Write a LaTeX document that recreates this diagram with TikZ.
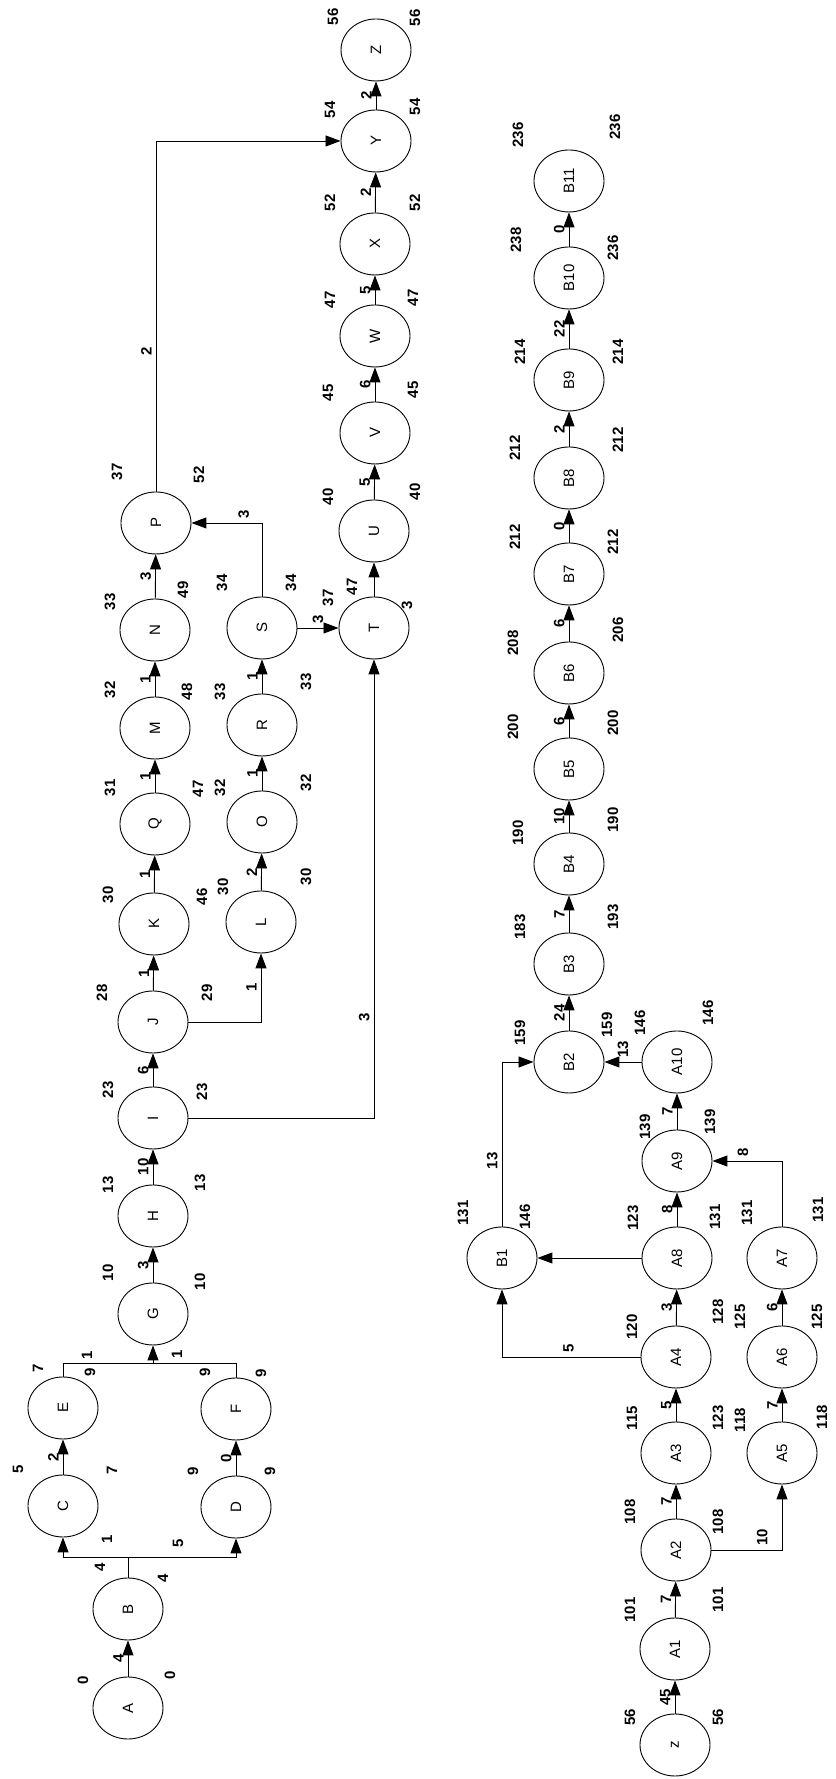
\documentclass[tikz,border=0pt]{standalone}
\usepackage{fontspec}
\setmainfont{Liberation Sans}
\usetikzlibrary{arrows.meta, shapes.geometric}

\begin{document}
\begin{tikzpicture}[
    x=1pt, y=1pt,
    font=\fontsize{15}{15}\selectfont,
    ev/.style={draw, ellipse, line width=0.9pt,
        minimum width=62pt, minimum height=70pt, inner sep=0pt},
    lab/.style={font=\fontsize{15}{15}\selectfont\bfseries, inner sep=1pt},
    dur/.style={lab, inner sep=4pt},
    arrow/.style={-{Triangle[length=15pt, width=11pt]}, line width=0.9pt},
    link/.style={line width=0.9pt}
]
\begin{scope}[rotate=90, transform shape]
\useasboundingbox (0,0) rectangle (1779,835);

% -- upper network: events --
\node[ev] (A) at (71,707) {A};
\node[ev] (B) at (170,707) {B};
\node[ev] (C) at (273,772) {C};
\node[ev] (D) at (272,599) {D};
\node[ev] (E) at (371,772) {E};
\node[ev] (F) at (370,599) {F};
\node[ev] (G) at (465,682) {G};
\node[ev] (H) at (563,682) {H};
\node[ev] (I) at (661,682) {I};
\node[ev] (J) at (757,682) {J};
\node[ev] (K) at (855,681) {K};
\node[ev] (Q) at (955,680) {Q};
\node[ev] (M) at (1051,680) {M};
\node[ev] (N) at (1149,680) {N};
\node[ev] (P) at (1256,679) {P};
\node[ev] (L) at (857,574) {L};
\node[ev] (O) at (957,573) {O};
\node[ev] (R) at (1054,573) {R};
\node[ev] (S) at (1151,573) {S};
\node[ev] (T) at (1151,461) {T};
\node[ev] (U) at (1248,461) {U};
\node[ev] (V) at (1346,460) {V};
\node[ev] (W) at (1443,460) {W};
\node[ev] (X) at (1535,460) {X};
\node[ev] (Y) at (1638,459) {Y};
\node[ev] (Z) at (1729,459) {Z};

% -- upper network: activities --
\draw[arrow] (A) -- node[dur, above]{4} (B);
\coordinate (bB) at (222,707);
\draw[link] (B) -- (bB);
\draw[arrow] (bB) |- (C);
\draw[arrow] (bB) |- (D);
\draw[arrow] (C) -- node[dur, above]{2} (E);
\draw[arrow] (D) -- node[dur, above]{0} (F);
\coordinate (mG) at (416,682);
\draw[link] (E) -| (mG);
\draw[link] (F) -| (mG);
\draw[arrow] (mG) -- (G);
\draw[arrow] (G) -- node[dur, above]{3} (H);
\draw[arrow] (H) -- node[dur, above]{10} (I);
\draw[arrow] (I) -- node[dur, above]{6} (J);
\draw[arrow] (J) -- node[dur, above]{1} (K);
\draw[arrow] (K) -- node[dur, above]{1} (Q);
\draw[arrow] (Q) -- node[dur, above]{1} (M);
\draw[arrow] (M) -- node[dur, above]{1} (N);
\draw[arrow] (N) -- node[dur, above]{3} (P);
\draw[arrow] (J) |- node[dur, above, pos=0.75]{1} (L);
\draw[arrow] (L) -- node[dur, above]{2} (O);
\draw[arrow] (O) -- node[dur, above]{1} (R);
\draw[arrow] (R) -- node[dur, above]{1} (S);
\draw[arrow] (S) -- node[dur, right]{3} (T);
\draw[arrow] (S) -| node[dur, right, pos=0.63]{3} (P);
\draw[arrow] (I) |- node[dur, above, pos=0.61]{3} (T);
\draw[arrow] (T) -- (U);
\draw[arrow] (U) -- node[dur, above]{5} (V);
\draw[arrow] (V) -- node[dur, above]{6} (W);
\draw[arrow] (W) -- node[dur, above]{5} (X);
\draw[arrow] (X) -- node[dur, above]{2} (Y);
\draw[arrow] (Y) -- node[dur, above]{2} (Z);
\draw[arrow] (P) -| node[dur, above, pos=0.2]{2} (Y);

% -- upper network: times --
\node[lab] (esA) at (99,752) {0};
\node[lab] (lsA) at (104,665) {0};
\node[lab] (esB) at (212,735) {4};
\node[lab] (lsB) at (201,672) {4};
\node[lab] (dBC) at (240,728) {1};
\node[lab] (dBD) at (236,657) {5};
\node[lab] (esC) at (310,817) {5};
\node[lab] (lsC) at (309,723) {7};
\node[lab] (esD) at (308,642) {9};
\node[lab] (lsD) at (308,565) {9};
\node[lab] (esE) at (411,797) {7};
\node[lab] (lsE) at (407,745) {9};
\node[lab] (dEG) at (424,748) {1};
\node[lab] (esF) at (407,630) {9};
\node[lab] (lsF) at (406,574) {9};
\node[lab] (dFG) at (425,658) {1};
\node[lab] (esG) at (506,727) {10};
\node[lab] (lsG) at (497,635) {10};
\node[lab] (esH) at (594,727) {13};
\node[lab] (lsH) at (596,635) {13};
\node[lab] (esI) at (689,727) {23};
\node[lab] (lsI) at (687,633) {23};
\node[lab] (esJ) at (786,733) {28};
\node[lab] (lsJ) at (786,628) {29};
\node[lab] (esK) at (884,727) {30};
\node[lab] (lsK) at (882,633) {46};
\node[lab] (esQ) at (991,725) {31};
\node[lab] (lsQ) at (990,637) {47};
\node[lab] (esM) at (1089,725) {32};
\node[lab] (lsM) at (1087,648) {48};
\node[lab] (esN) at (1177,725) {33};
\node[lab] (lsN) at (1189,652) {49};
\node[lab] (esP) at (1307,718) {37};
\node[lab] (lsP) at (1304,636) {52};
\node[lab] (esL) at (892,612) {30};
\node[lab] (lsL) at (902,529) {30};
\node[lab] (esO) at (991,615) {32};
\node[lab] (lsO) at (996,529) {32};
\node[lab] (esR) at (1087,615) {33};
\node[lab] (lsR) at (1097,529) {33};
\node[lab] (esS) at (1196,613) {34};
\node[lab] (lsS) at (1196,544) {34};
\node[lab] (esT) at (1181,507) {37};
\node[lab] (dTU) at (1192,483) {47};
\node[lab] (lsT) at (1174,428) {3};
\node[lab] (esU) at (1282,507) {40};
\node[lab] (lsU) at (1287,420) {40};
\node[lab] (esV) at (1386,507) {45};
\node[lab] (lsV) at (1389,422) {45};
\node[lab] (esW) at (1479,505) {47};
\node[lab] (lsW) at (1481,422) {47};
\node[lab] (esX) at (1576,505) {52};
\node[lab] (lsX) at (1576,420) {52};
\node[lab] (esY) at (1669,505) {54};
\node[lab] (lsY) at (1672,420) {54};
\node[lab] (esZ) at (1762,502) {56};
\node[lab] (lsZ) at (1761,420) {56};

% -- lower network: events --
\node[ev] (z) at (34,160) {z};
\node[ev] (A1) at (130,160) {A1};
\node[ev] (A2) at (229,159) {A2};
\node[ev] (A3) at (326,159) {A3};
\node[ev] (A4) at (422,159) {A4};
\node[ev] (A8) at (521,158) {A8};
\node[ev] (A9) at (618,158) {A9};
\node[ev] (A10) at (717,158) {A10};
\node[ev] (A5) at (326,53) {A5};
\node[ev] (A6) at (422,53) {A6};
\node[ev] (A7) at (521,53) {A7};
\node[ev] (B1) at (521,333) {B1};
\node[ev] (B2) at (717,266) {B2};
\node[ev] (B3) at (815,266) {B3};
\node[ev] (B4) at (915,266) {B4};
\node[ev] (B5) at (1010,266) {B5};
\node[ev] (B6) at (1106,266) {B6};
\node[ev] (B7) at (1205,266) {B7};
\node[ev] (B8) at (1301,266) {B8};
\node[ev] (B9) at (1399,266) {B9};
\node[ev] (B10) at (1501,266) {B10};
\node[ev] (B11) at (1598,266) {B11};

% -- lower network: activities --
\draw[arrow] (z) -- node[dur, above]{45} (A1);
\draw[arrow] (A1) -- node[dur, above]{7} (A2);
\draw[arrow] (A2) -- node[dur, above]{7} (A3);
\draw[arrow] (A3) -- node[dur, above]{5} (A4);
\draw[arrow] (A4) -- node[dur, above]{3} (A8);
\draw[arrow] (A8) -- node[dur, above]{8} (A9);
\draw[arrow] (A9) -- node[dur, above]{7} (A10);
\draw[arrow] (A2) |- node[dur, right, pos=0.36]{10} (A5);
\draw[arrow] (A5) -- node[dur, above]{7} (A6);
\draw[arrow] (A6) -- node[dur, above]{6} (A7);
\draw[arrow] (A7) -| node[dur, right, pos=0.78]{8} (A9);
\draw[arrow] (A4) |- node[dur, right, pos=0.26]{5} (B1);
\draw[arrow] (A8) -- (B1);
\draw[arrow] (A10) -- node[dur, right]{13} (B2);
\draw[arrow] (B1) -| node[dur, above, pos=0.2]{13} (B2);
\draw[arrow] (B2) -- node[dur, above]{24} (B3);
\draw[arrow] (B3) -- node[dur, above]{7} (B4);
\draw[arrow] (B4) -- node[dur, above]{10} (B5);
\draw[arrow] (B5) -- node[dur, above]{6} (B6);
\draw[arrow] (B6) -- node[dur, above]{6} (B7);
\draw[arrow] (B7) -- node[dur, above]{0} (B8);
\draw[arrow] (B8) -- node[dur, above]{2} (B9);
\draw[arrow] (B9) -- node[dur, above]{22} (B10);
\draw[arrow] (B10) -- node[dur, above]{0} (B11);

% -- lower network: times --
\node[lab] (esz) at (62,205) {56};
\node[lab] (lsz) at (62,117) {56};
\node[lab] (esA1) at (169,205) {101};
\node[lab] (lsA1) at (179,117) {101};
\node[lab] (esA2) at (267,205) {108};
\node[lab] (lsA2) at (257,117) {108};
\node[lab] (esA3) at (361,203) {115};
\node[lab] (lsA3) at (361,117) {123};
\node[lab] (esA4) at (452,203) {120};
\node[lab] (lsA4) at (467,117) {128};
\node[lab] (esA8) at (561,202) {123};
\node[lab] (lsA8) at (562,120) {131};
\node[lab] (esA9) at (652,190) {139};
\node[lab] (lsA9) at (657,125) {139};
\node[lab] (esA10) at (756,195) {146};
\node[lab] (lsA10) at (766,127) {146};
\node[lab] (esA5) at (359,95) {118};
\node[lab] (lsA5) at (362,13) {118};
\node[lab] (esA6) at (462,95) {125};
\node[lab] (lsA6) at (462,18) {125};
\node[lab] (esA7) at (566,88) {131};
\node[lab] (lsA7) at (569,17) {131};
\node[lab] (esB1) at (566,372) {131};
\node[lab] (lsB1) at (562,310) {146};
\node[lab] (esB2) at (746,315) {159};
\node[lab] (lsB2) at (754,228) {159};
\node[lab] (esB3) at (852,315) {183};
\node[lab] (lsB3) at (862,222) {193};
\node[lab] (esB4) at (946,317) {190};
\node[lab] (lsB4) at (959,222) {190};
\node[lab] (esB5) at (1052,322) {200};
\node[lab] (lsB5) at (1056,222) {200};
\node[lab] (esB6) at (1136,322) {208};
\node[lab] (lsB6) at (1149,217) {206};
\node[lab] (esB7) at (1242,320) {212};
\node[lab] (lsB7) at (1237,222) {212};
\node[lab] (esB8) at (1331,320) {212};
\node[lab] (lsB8) at (1339,217) {212};
\node[lab] (esB9) at (1427,315) {214};
\node[lab] (lsB9) at (1427,217) {214};
\node[lab] (esB10) at (1539,319) {238};
\node[lab] (lsB10) at (1531,222) {236};
\node[lab] (esB11) at (1644,317) {236};
\node[lab] (lsB11) at (1652,220) {236};

\end{scope}
\end{tikzpicture}
\end{document}
